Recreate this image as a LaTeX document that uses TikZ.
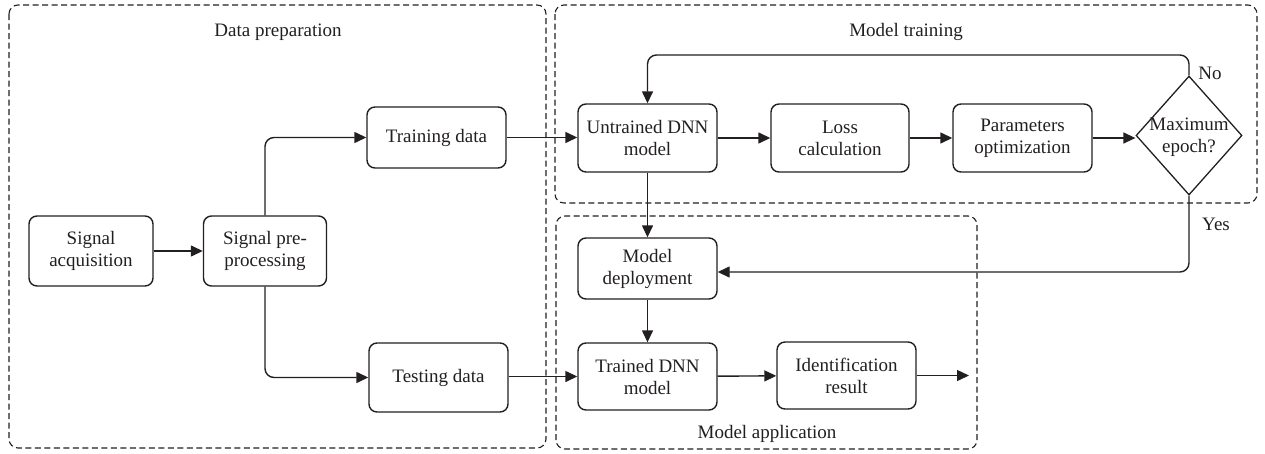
\documentclass[tikz,border=0pt]{standalone}
\usepackage{fontspec}
\setmainfont{Liberation Serif}
\usetikzlibrary{arrows.meta,shapes.geometric}
\definecolor{ink}{HTML}{231F20}
\begin{document}
\begin{tikzpicture}[x=1pt,y=-1pt,
  every node/.style={font=\fontsize{19}{22}\selectfont, text=ink},
  box/.style={draw=ink, line width=1.4pt, rounded corners=8pt, align=center, inner sep=0pt},
  decision/.style={draw=ink, line width=1.3pt, diamond, inner sep=0pt,
                   minimum width=106pt, minimum height=119pt},
  group/.style={draw=ink, line width=1.1pt, dash pattern=on 6pt off 3.5pt, rounded corners=9pt},
  link/.style={draw=ink, line width=1.4pt, -{Triangle[length=12pt,width=11pt]}, rounded corners=9pt},
  txt/.style={align=center, inner sep=0pt}]
\useasboundingbox (0,0) rectangle (1265,453);

% stage frames
\draw[group] (9,5) rectangle (546,448);
\draw[group] (555,5) rectangle (1257,203);
\draw[group] (556,216) rectangle (977,449);
\node[txt] (tprep)  at (278,32)  {Data preparation};
\node[txt] (ttrain) at (906,32)  {Model training};
\node[txt] (tapp)   at (767,434) {Model application};

% process steps
\node[box, minimum width=124pt, minimum height=70pt] (acq)   at (91,251)     {Signal\\acquisition};
\node[box, minimum width=123pt, minimum height=70pt] (pre)   at (265,251)    {Signal pre-\\processing};
\node[box, minimum width=139pt, minimum height=61pt] (train) at (436.5,137.5) {Training data};
\node[box, minimum width=139pt, minimum height=69pt] (test)  at (438.5,377.5) {Testing data};
\node[box, minimum width=139pt, minimum height=68pt] (untr)  at (647.5,138)  {Untrained DNN\\model};
\node[box, minimum width=138pt, minimum height=68pt] (loss)  at (840,138)    {Loss\\calculation};
\node[box, minimum width=139pt, minimum height=68pt] (param) at (1022.5,138) {Parameters\\optimization};
\node[decision] (dec) at (1189,135.5) {};
\node[txt] (dectext) at (1189,137) {Maximum\\epoch?};
\node[box, minimum width=139pt, minimum height=61pt] (deploy)  at (647.5,268.5) {Model\\deployment};
\node[box, minimum width=139pt, minimum height=67pt] (trained) at (647.5,376.5) {Trained DNN\\model};
\node[box, minimum width=139pt, minimum height=67pt] (ident)   at (846.5,375.5) {Identification\\result};
\coordinate (out) at (969,375.5);

% connectors
\draw[link] (acq) -- (pre);
\draw[link] (pre.north) |- (train.west);
\draw[link] (pre.south) |- (test.west);
\draw[link] (train.east) -- (untr.west |- train.east);
\draw[link] (test.east |- trained.west) -- (trained.west);
\draw[link] (untr) -- (loss);
\draw[link] (loss) -- (param);
\draw[link] (param) -- (dec.west |- param.east);
\draw[link] (dec.north) -- (1189,55) -- (647.5,55) -- (untr.north);
\draw[link] (dec.south) |- ([yshift=-3.5pt]deploy.east);
\draw[link] (untr) -- (deploy);
\draw[link] (deploy) -- (trained);
\draw[link] (trained) -- (ident);
\draw[link] (ident) -- (out);

% branch labels
\node[txt] (no)  at (1210,73)  {No};
\node[txt] (yes) at (1216,224) {Yes};
\end{tikzpicture}
\end{document}
